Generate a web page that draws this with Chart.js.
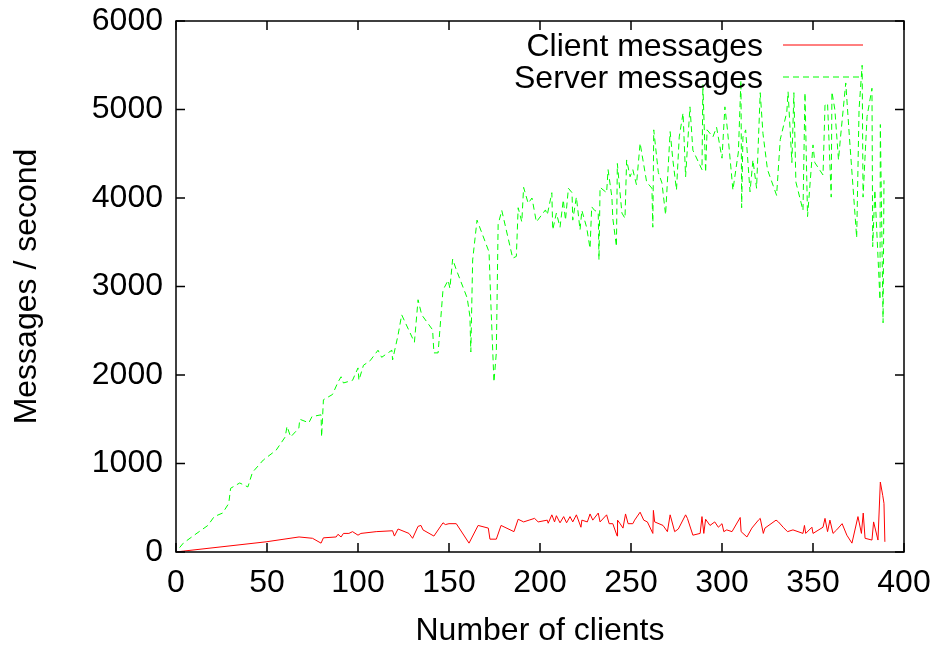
<!DOCTYPE html>
<html>
<head>
<meta charset="utf-8">
<script src="https://cdn.jsdelivr.net/npm/chart.js@4/dist/chart.umd.min.js"></script>
<style>
  body { margin: 0; background: #fff; }
  canvas { display: block; }
</style>
</head>
<body>
<canvas id="chart" width="937" height="650"></canvas>
<script>
// -------------------- DATA --------------------
const seriesNames = ["Client messages", "Server messages"];
const xTicks = [0, 50, 100, 150, 200, 250, 300, 350, 400];
const yTicks = [0, 1000, 2000, 3000, 4000, 5000, 6000];

const clientX = [0, 4, 49.5, 67.6, 75, 79.7, 81, 88, 89, 90.7, 92, 95, 97, 100, 101.6, 110, 119, 120, 122, 128,
  130, 133, 134.6, 135.7, 141.7, 146.7, 148, 150, 154, 161, 166, 171.6, 172.5, 176, 178.6, 185.7, 188, 191, 194, 197,
  199, 204, 204.5, 206.5, 208, 209, 211, 213, 214.6, 216.5, 218, 220, 222.5, 223, 226, 227.5, 229, 232, 233, 236.6,
  238, 240, 242.4, 242.6, 244, 245.6, 247, 248.4, 251, 252, 255, 257, 259, 262, 262.3, 263, 267.6, 270, 271.5, 274,
  276, 280, 281, 284, 288, 289, 290, 291, 293.4, 296, 298, 300, 301, 302.6, 305.5, 310, 310.5, 313.7, 316.4, 320,
  321, 322.7, 323.6, 329.7, 331, 333.6, 336, 339, 344.5, 345.3, 346, 349.4, 350, 355.5, 356.6, 358, 359.3, 361, 363,
  366, 368.6, 371.4, 374.7, 376.6, 377.6, 378.6, 382.4, 383.3, 385.7, 387, 388.3, 389, 389.5];
const clientY = [0, 10, 115, 170, 155, 100, 160, 170, 200, 170, 210, 210, 230, 190, 210, 230, 240, 180, 260, 210,
  155, 290, 300, 250, 180, 330, 310, 320, 320, 100, 300, 270, 145, 145, 300, 230, 370, 340, 360, 380,
  340, 360, 325, 420, 340, 410, 330, 400, 330, 400, 340, 420, 280, 360, 340, 430, 360, 440, 340, 420,
  320, 320, 180, 360, 320, 270, 430, 320, 320, 360, 450, 360, 340, 210, 470, 340, 300, 230, 420, 230,
  260, 420, 380, 190, 210, 400, 210, 370, 300, 340, 280, 320, 230, 250, 230, 390, 230, 170, 270, 360,
  380, 210, 270, 360, 340, 280, 230, 250, 210, 300, 210, 280, 210, 280, 380, 230, 360, 210, 250,
  320, 190, 100, 400, 210, 440, 155, 135, 340, 135, 790, 640, 550, 115];

const serverX = [2, 4, 10, 17.5, 21, 25.6, 29, 30, 35, 39.5, 42, 48, 55, 60, 61, 63, 67.5, 68, 73, 74.7,
  79.7, 80, 81, 86, 89, 90.7, 92, 97, 100, 100.5, 103, 106.6, 111, 113, 118.6, 119, 122, 124, 131, 133,
  135, 141, 141.7, 144, 146.7, 149.5, 150.5, 152, 154, 160, 161.5, 162, 163, 165.4, 172, 173, 174.7, 176, 177, 179,
  185, 187, 188, 190, 191, 193.5, 195.6, 198, 203, 204, 206.5, 207, 209, 211, 212.8, 214, 215.6, 217.6, 218, 220,
  222, 223, 225.6, 227.5, 228.4, 230, 232, 232.4, 233, 236.6, 237.4, 239.5, 240, 242, 242.5, 245, 246.7, 247.6, 249.5, 251,
  253, 255, 258.6, 261.5, 262, 262.5, 265, 267, 269, 271.5, 273, 275, 276.5, 278.6, 280, 282.4, 284, 289, 289.5, 291,
  291.8, 295, 297, 300, 301.6, 303, 306, 309, 310.4, 310.8, 311.5, 313, 315.4, 317, 319, 321, 322.5, 325, 330, 332,
  335.6, 336.3, 338.4, 339.5, 340.6, 344.5, 345.6, 347, 350, 351, 355.5, 356.6, 358, 360, 360.4, 362, 364, 365, 368, 370,
  374, 375.3, 377, 377.5, 379.7, 382.4, 382.8, 384, 386.8, 387, 388.5, 389];
const serverY = [50, 100, 190, 300, 400, 440, 550, 720, 780, 735, 900, 1040, 1150, 1300, 1420, 1300, 1400, 1500, 1460, 1530,
  1550, 1300, 1720, 1780, 1920, 1980, 1910, 1940, 2080, 1940, 2110, 2160, 2280, 2200, 2280, 2170, 2450, 2680, 2370, 2850,
  2680, 2510, 2250, 2250, 2960, 3070, 2980, 3310, 3190, 2870, 2660, 2260, 3300, 3750, 3390, 2810, 1920, 2250, 3700, 3860,
  3320, 3340, 3890, 3730, 4120, 3940, 4000, 3730, 3865, 3810, 4060, 3640, 3830, 3670, 3980, 3750, 4110, 4060, 3750, 4010,
  3640, 3860, 3670, 3430, 3900, 3860, 3840, 3300, 4120, 4060, 4320, 4010, 3770, 3450, 4390, 3830, 3770, 4430, 4240, 4320,
  4150, 4620, 4180, 4110, 3670, 4770, 4290, 4170, 3810, 4750, 4430, 4090, 4690, 4960, 4240, 5030, 4540, 4320, 5280, 4290,
  4770, 4690, 4800, 4450, 5030, 4770, 4090, 4520, 5330, 3890, 4690, 4770, 4070, 4430, 4110, 5190, 4730, 4320, 4030, 4660,
  4970, 5200, 4400, 5190, 4180, 3860, 5190, 3790, 4600, 4400, 4260, 5050, 5070, 4010, 5200, 5000, 4430, 4660, 5300, 4690,
  3550, 5000, 5500, 4010, 4920, 5240, 3450, 4090, 2850, 4830, 2590, 4200];

// -------------------- CHART SETUP --------------------
const FONT = "'Liberation Sans', Arial, Helvetica, sans-serif";
const FONT_SIZE = 32;
const toPoints = (xs, ys) => xs.map((x, i) => ({ x: x, y: ys[i] }));

// gnuplot style frame: border, inward ticks on all sides, key in the top right
const framePlugin = {
  id: "frame",
  afterDraw(chart) {
    const c = chart.ctx;
    const a = chart.chartArea;
    const xs = chart.scales.x;
    const ys = chart.scales.y;
    const len = 9;
    c.save();
    c.strokeStyle = "#000";
    c.lineWidth = 1.5;
    c.setLineDash([]);
    c.strokeRect(a.left, a.top, a.right - a.left, a.bottom - a.top);
    c.beginPath();
    xTicks.forEach(v => {
      const px = xs.getPixelForValue(v);
      c.moveTo(px, a.bottom); c.lineTo(px, a.bottom - len);
      c.moveTo(px, a.top); c.lineTo(px, a.top + len);
    });
    yTicks.forEach(v => {
      const py = ys.getPixelForValue(v);
      c.moveTo(a.left, py); c.lineTo(a.left + len, py);
      c.moveTo(a.right, py); c.lineTo(a.right - len, py);
    });
    c.stroke();

    // key
    c.font = FONT_SIZE + "px " + FONT;
    c.fillStyle = "#000";
    c.textAlign = "right";
    c.textBaseline = "alphabetic";
    const rows = [45, 77];
    chart.data.datasets.forEach((ds, i) => {
      const y = rows[i];
      c.fillText(ds.label, 763, y + 11);
      c.strokeStyle = ds.borderColor;
      c.lineWidth = 1;
      c.setLineDash(ds.borderDash || []);
      c.beginPath();
      c.moveTo(783, y);
      c.lineTo(863, y);
      c.stroke();
    });
    c.restore();
  }
};

const ctx = document.getElementById("chart").getContext("2d");

const chart = new Chart(ctx, {
  type: "line",
  data: {
    datasets: [{
      label: seriesNames[0],
      data: toPoints(clientX, clientY),
      borderColor: "#ff0000",
      borderWidth: 1,
      pointRadius: 0,
      tension: 0,
      fill: false
    }, {
      label: seriesNames[1],
      data: toPoints(serverX, serverY),
      borderColor: "#00ff00",
      borderWidth: 1,
      borderDash: [6, 4],
      pointRadius: 0,
      tension: 0,
      fill: false
    }]
  },
  options: {
    responsive: false,
    animation: false,
    layout: { padding: { top: 21, right: 33, left: 0, bottom: 0 } },
    plugins: {
      legend: { display: false },
      tooltip: { enabled: false }
    },
    scales: {
      x: {
        type: "linear",
        min: 0,
        max: 400,
        afterBuildTicks: (scale) => { scale.ticks = xTicks.map(v => ({ value: v })); },
        afterFit: (scale) => {
          scale.height = 98;
          scale.paddingLeft = 0;
          scale.paddingRight = 0;
        },
        grid: { display: false, drawTicks: false },
        border: { display: false },
        ticks: {
          color: "#000",
          padding: 12,
          maxRotation: 0,
          callback: (v) => String(v),
          font: { family: FONT, size: FONT_SIZE }
        },
        title: {
          display: true,
          text: "Number of clients",
          color: "#000",
          padding: { top: 0, bottom: 0 },
          font: { family: FONT, size: FONT_SIZE }
        }
      },
      y: {
        min: 0,
        max: 6000,
        afterBuildTicks: (scale) => { scale.ticks = yTicks.map(v => ({ value: v })); },
        afterFit: (scale) => {
          scale.width = 176;
          scale.paddingTop = 0;
          scale.paddingBottom = 0;
        },
        grid: { display: false, drawTicks: false },
        border: { display: false },
        ticks: {
          color: "#000",
          padding: 13,
          callback: (v) => String(v),
          font: { family: FONT, size: FONT_SIZE }
        },
        title: {
          display: true,
          text: "Messages / second",
          color: "#000",
          padding: { top: 8, bottom: 0 },
          font: { family: FONT, size: FONT_SIZE }
        }
      }
    }
  },
  plugins: [framePlugin]
});
</script>
</body>
</html>
